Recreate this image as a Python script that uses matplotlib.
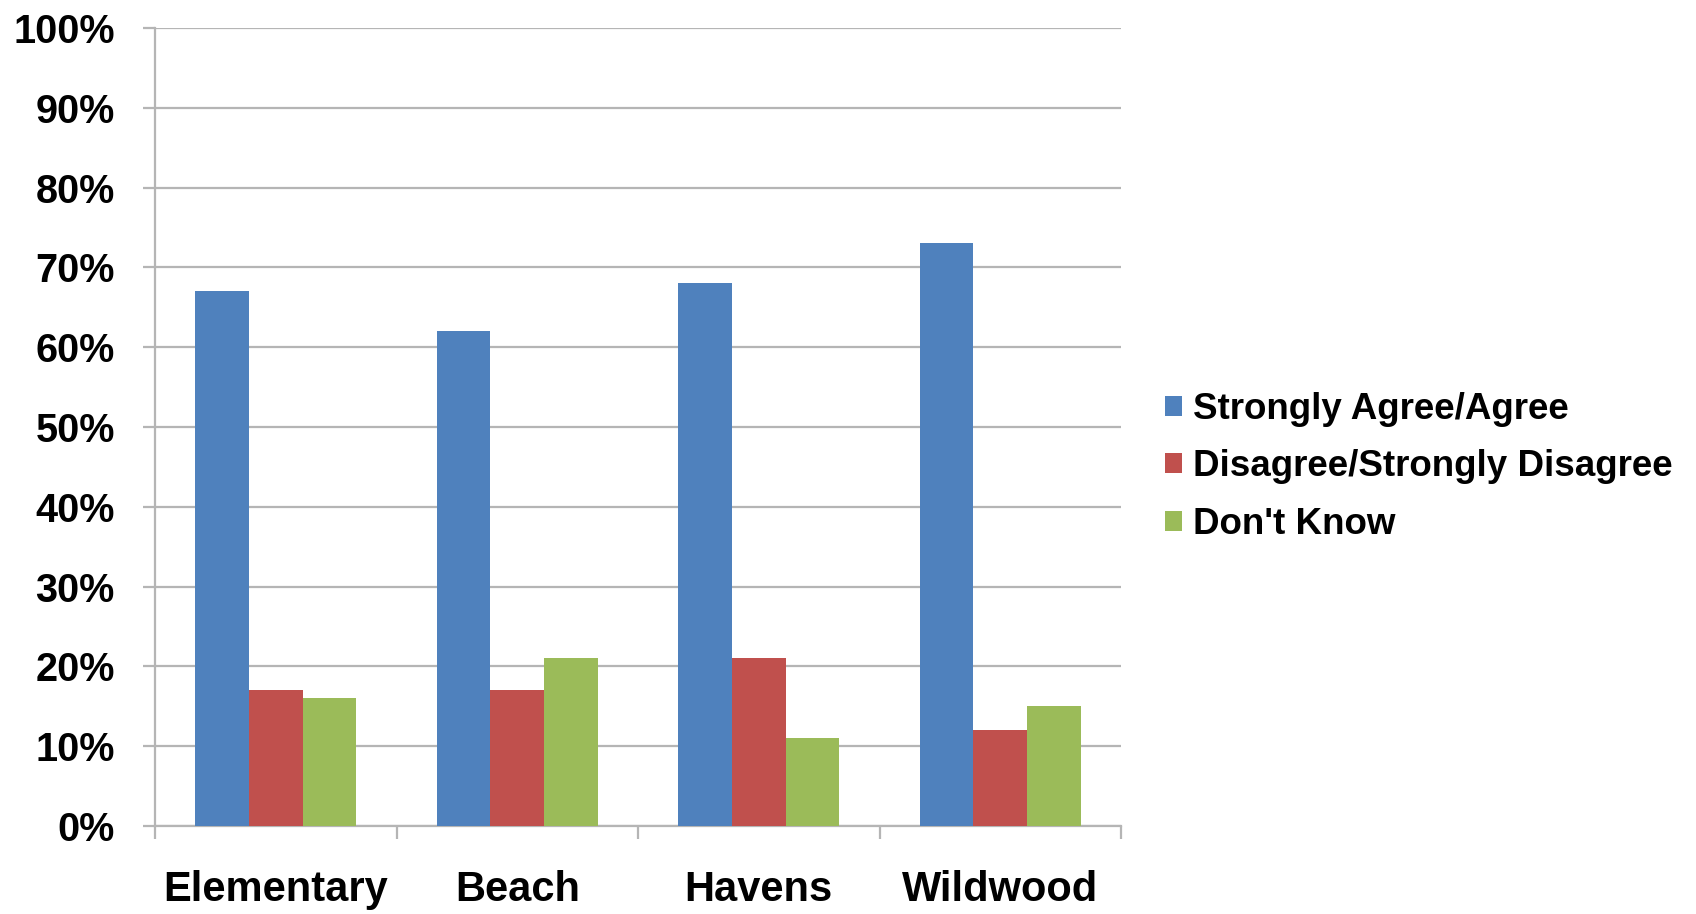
import numpy as np
import matplotlib
matplotlib.use("Agg")
import matplotlib.pyplot as plt

# data
schools = ['Elementary', 'Beach', 'Havens', 'Wildwood']
agree = [67, 62, 68, 73]
disagree = [17, 17, 21, 12]
dont_know = [16, 21, 11, 15]
series_names = ['Strongly Agree/Agree', 'Disagree/Strongly Disagree', "Don't Know"]
colors = ['#4F81BD', '#C0504D', '#9BBB59']
yticks = np.arange(0, 101, 10)

plt.rcParams['font.family'] = ['Liberation Sans', 'DejaVu Sans']
plt.rcParams['font.weight'] = 'bold'

fig = plt.figure(figsize=(16.96, 9.14), dpi=100)
ax = fig.add_axes([155/1696, 1-826/914, (1121-155)/1696, (826-28)/914])

x = np.arange(len(schools))
w = 0.222
for i, (vals, name, c) in enumerate(zip([agree, disagree, dont_know], series_names, colors)):
    ax.bar(x + (i-1)*w, vals, w, color=c, label=name, zorder=3)

ax.set_xlim(-0.5, len(schools)-0.5)
ax.set_ylim(0, 100)
ax.set_yticks(yticks)
ax.set_yticklabels(['%d%%' % v for v in yticks], fontsize=28.5, fontweight='bold')
ax.yaxis.grid(True, color='#B5B5B5', linewidth=1.6, zorder=0)

# category labels in the middle, tick marks between the groups
ax.set_xticks(x)
ax.set_xticklabels(schools, fontsize=30, fontweight='bold')
ax.set_xticks(np.arange(-0.5, len(schools), 1), minor=True)
ax.tick_params(axis='x', which='major', length=0, pad=32)
ax.tick_params(axis='x', which='minor', length=9, width=1.6, color='#B5B5B5')
ax.tick_params(axis='y', length=9, width=1.6, color='#B5B5B5', pad=20)

for s in ['top', 'right']:
    ax.spines[s].set_visible(False)
for s in ['left', 'bottom']:
    ax.spines[s].set_color('#B5B5B5')
    ax.spines[s].set_linewidth(1.6)

fig.legend(loc='center left', bbox_to_anchor=(1165/1696, 1-467/914),
           frameon=False, fontsize=26.5, handlelength=0.46, handleheight=0.46,
           handletextpad=0.3, labelspacing=0.62, borderpad=0, borderaxespad=0)

fig.savefig('out.png', dpi=100)
